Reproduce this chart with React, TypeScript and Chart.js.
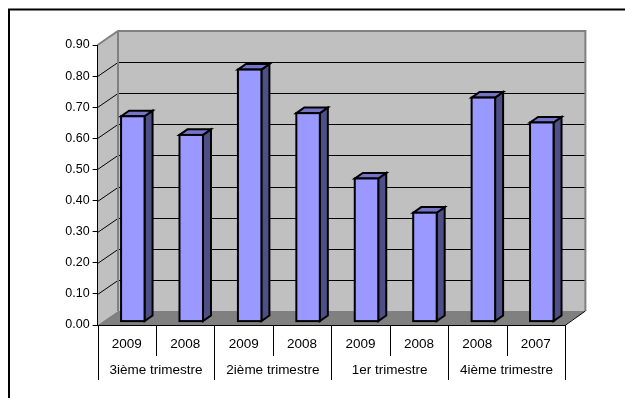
import React, { useEffect, useRef } from "react";
import { Chart, registerables } from "chart.js";

Chart.register(...registerables);

const yearLabels = ["2009", "2008", "2009", "2008", "2009", "2008", "2008", "2007"];
const groupLabels = ["3ième trimestre", "2ième trimestre", "1er trimestre", "4ième trimestre"];
const values = [0.66, 0.6, 0.81, 0.67, 0.46, 0.35, 0.72, 0.64];
const yMin = 0;
const yMax = 0.9;
const yStep = 0.1;

const FONT = "Arial, 'Liberation Sans', sans-serif";
const DX = 20.4; // depth offset of the back wall
const DY = -14;
const BAR_OX = 6; // bar plane offset
const BAR_OY = -3.4;
const BAR_DX = 8; // bar depth
const BAR_DY = -5.6;

const wallPlugin = {
  id: "wall3d",
  beforeDraw(chart: any) {
    const ctx = chart.ctx;
    const { left, right, top, bottom } = chart.chartArea;
    const ys = chart.scales.y;
    ctx.save();
    // outer frame
    ctx.strokeStyle = "#000";
    ctx.lineWidth = 2;
    ctx.strokeRect(9, 9.5, 700, 500);

    // left side wall
    ctx.fillStyle = "#c0c0c0";
    ctx.beginPath();
    ctx.moveTo(left, top);
    ctx.lineTo(left + DX, top + DY);
    ctx.lineTo(left + DX, bottom + DY);
    ctx.lineTo(left, bottom);
    ctx.closePath();
    ctx.fill();
    // back wall
    ctx.fillRect(left + DX, top + DY, right - left, bottom - top);
    // floor
    ctx.fillStyle = "#808080";
    ctx.beginPath();
    ctx.moveTo(left, bottom);
    ctx.lineTo(right, bottom);
    ctx.lineTo(right + DX, bottom + DY);
    ctx.lineTo(left + DX, bottom + DY);
    ctx.closePath();
    ctx.fill();

    // gridlines on back wall and left wall
    ctx.strokeStyle = "#000";
    ctx.lineWidth = 1;
    for (let v = yMin + yStep; v < yMax - 1e-9; v += yStep) {
      const py = Math.round(ys.getPixelForValue(v)) + 0.5;
      ctx.beginPath();
      ctx.moveTo(left, py);
      ctx.lineTo(left + DX, py + DY);
      ctx.lineTo(right + DX, py + DY);
      ctx.stroke();
    }
    // wall borders
    ctx.strokeStyle = "#808080";
    ctx.lineWidth = 2;
    ctx.beginPath();
    ctx.moveTo(left, top);
    ctx.lineTo(left + DX, top + DY);
    ctx.lineTo(right + DX, top + DY);
    ctx.lineTo(right + DX, bottom + DY);
    ctx.stroke();
    ctx.beginPath();
    ctx.moveTo(left + DX, top + DY);
    ctx.lineTo(left + DX, bottom + DY);
    ctx.stroke();
    // floor right edge
    ctx.strokeStyle = "#000";
    ctx.lineWidth = 1;
    ctx.beginPath();
    ctx.moveTo(right, bottom + 0.5);
    ctx.lineTo(right + DX, bottom + DY);
    ctx.stroke();
    ctx.restore();
  },
  afterDatasetsDraw(chart: any) {
    const ctx = chart.ctx;
    const meta = chart.getDatasetMeta(0);
    ctx.save();
    ctx.lineWidth = 2;
    ctx.strokeStyle = "#000";
    ctx.lineJoin = "miter";
    meta.data.forEach((el: any) => {
      const p = el.getProps(["x", "y", "base", "width"], true);
      const l = p.x - p.width / 2 + BAR_OX;
      const r = p.x + p.width / 2 + BAR_OX;
      const t = p.y + BAR_OY;
      const b = p.base + BAR_OY;
      // side face
      ctx.fillStyle = "#4f4f88";
      ctx.beginPath();
      ctx.moveTo(r, t);
      ctx.lineTo(r + BAR_DX, t + BAR_DY);
      ctx.lineTo(r + BAR_DX, b + BAR_DY);
      ctx.lineTo(r, b);
      ctx.closePath();
      ctx.fill();
      ctx.stroke();
      // top face
      ctx.fillStyle = "#7474c8";
      ctx.beginPath();
      ctx.moveTo(l, t);
      ctx.lineTo(l + BAR_DX, t + BAR_DY);
      ctx.lineTo(r + BAR_DX, t + BAR_DY);
      ctx.lineTo(r, t);
      ctx.closePath();
      ctx.fill();
      ctx.stroke();
      // front face
      ctx.fillStyle = "#9999ff";
      ctx.fillRect(l, t, r - l, b - t);
      ctx.strokeRect(l, t, r - l, b - t);
    });
    ctx.restore();
  },
  afterDraw(chart: any) {
    const ctx = chart.ctx;
    const { left, right, bottom } = chart.chartArea;
    const xs = chart.scales.x;
    const step = xs.getPixelForValue(1) - xs.getPixelForValue(0);
    ctx.save();
    ctx.strokeStyle = "#000";
    ctx.lineWidth = 1;
    // category axis line
    ctx.beginPath();
    ctx.moveTo(left, bottom + 0.5);
    ctx.lineTo(right, bottom + 0.5);
    ctx.stroke();
    // separators
    for (let i = 0; i <= yearLabels.length; i++) {
      const px = Math.round(xs.getPixelForValue(0) - step / 2 + i * step) + 0.5;
      const isGroup = i % 2 === 0;
      ctx.beginPath();
      ctx.moveTo(px, bottom);
      ctx.lineTo(px, isGroup ? 380 : 356);
      ctx.stroke();
    }
    // group labels
    ctx.fillStyle = "#000";
    ctx.font = "13.5px " + FONT;
    ctx.textAlign = "center";
    ctx.textBaseline = "middle";
    groupLabels.forEach((g, gi) => {
      const cx = (xs.getPixelForValue(gi * 2) + xs.getPixelForValue(gi * 2 + 1)) / 2;
      ctx.fillText(g, cx, 370.5);
    });
    ctx.restore();
  },
};

export default function App() {
  const ref = useRef<HTMLCanvasElement>(null);
  useEffect(() => {
    if (!ref.current) return;
    const chart = new Chart(ref.current, {
      type: "bar",
      data: {
        labels: yearLabels,
        datasets: [
          {
            data: values,
            backgroundColor: "rgba(0,0,0,0)",
            borderWidth: 0,
            barPercentage: 0.402,
            categoryPercentage: 1,
          },
        ],
      },
      options: {
        responsive: false,
        animation: false,
        layout: { padding: { top: 45, right: 60, bottom: 0, left: 0 } },
        plugins: { legend: { display: false }, tooltip: { enabled: false } },
        scales: {
          x: {
            type: "category",
            grid: { display: false },
            border: { display: false },
            ticks: { color: "#000", font: { family: FONT, size: 13.5 }, padding: 3, maxRotation: 0, autoSkip: false },
            afterFit: (s: any) => {
              s.height = 73;
            },
          },
          y: {
            min: yMin,
            max: yMax,
            grid: { display: true, drawOnChartArea: false, drawTicks: true, tickLength: 5, color: "#000", lineWidth: 1 },
            border: { display: true, color: "#000", width: 1 },
            ticks: {
              stepSize: yStep,
              color: "#000",
              font: { family: FONT, size: 12.5 },
              padding: 3,
              callback: (v: any) => Number(v).toFixed(2),
            },
            afterFit: (s: any) => {
              s.width = 97.6;
            },
          },
        },
      },
      plugins: [wallPlugin],
    });
    return () => chart.destroy();
  }, []);
  return (
    <div style={{ position: "fixed", left: 0, top: 0, width: 625, height: 398, background: "#fff" }}>
      <canvas ref={ref} width={625} height={398} style={{ display: "block" }} />
    </div>
  );
}
